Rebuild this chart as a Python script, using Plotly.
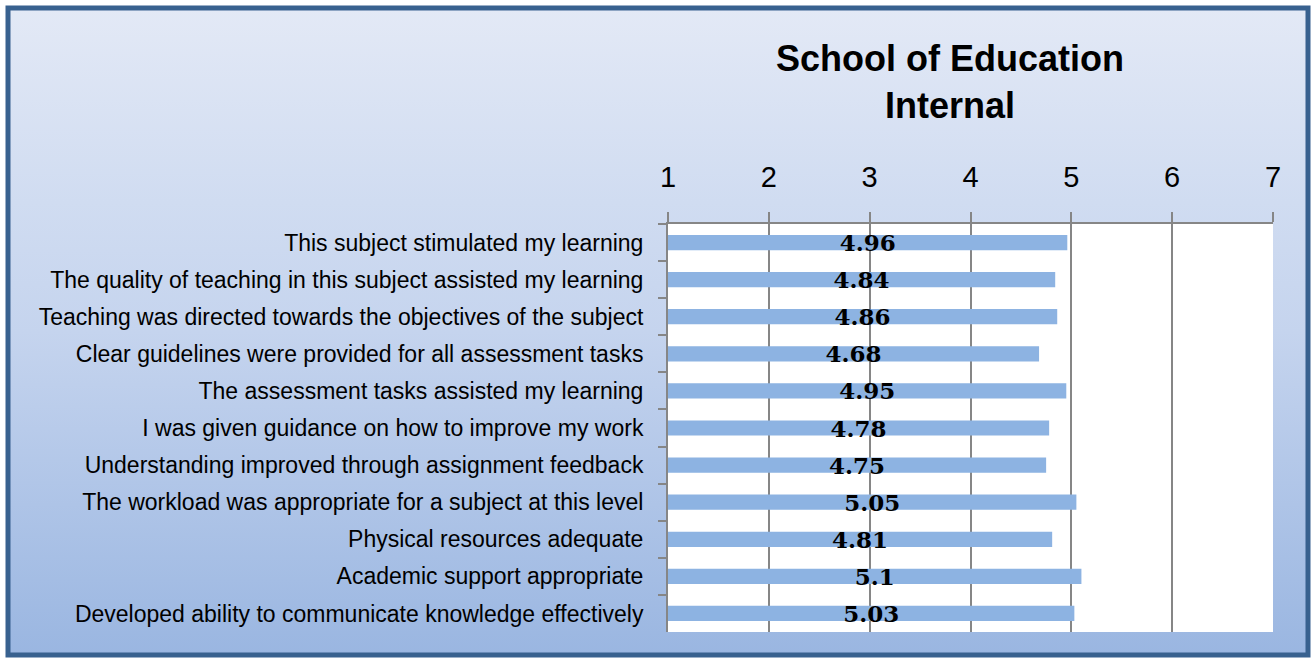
import base64
import plotly.graph_objects as go

# ---- data ----
categories = [
    "This subject stimulated my learning",
    "The quality of teaching in this subject assisted my learning",
    "Teaching was directed towards the objectives of the subject",
    "Clear guidelines were provided for all assessment tasks",
    "The assessment tasks assisted my learning",
    "I was given guidance on how to improve my work",
    "Understanding improved through assignment feedback",
    "The workload was appropriate for a subject at this level",
    "Physical resources adequate",
    "Academic support appropriate",
    "Developed ability to communicate knowledge effectively",
]
scores = [4.96, 4.84, 4.86, 4.68, 4.95, 4.78, 4.75, 5.05, 4.81, 5.1, 5.03]
x_ticks = [1, 2, 3, 4, 5, 6, 7]
title_lines = ["School of Education", "Internal"]

# ---- layout geometry (pixels) ----
W, H = 1311, 658
PL, PR, PT, PB = 668, 1273, 224, 632
axis_min = 1


def xp(px):
    return (px - PL) / (PR - PL)


def yp(py):
    return (PB - py) / (PB - PT)


narrow = "Liberation Sans Narrow, Arial Narrow, Liberation Sans, Arial, sans-serif"
grey = "#868686"

# gradient background image
bx0, by0, bx1, by1 = 8, 8, 1308, 655
gw, gh = bx1 - bx0, by1 - by0
svg = (
    f'<svg xmlns="http://www.w3.org/2000/svg" width="{gw}" height="{gh}" '
    f'viewBox="0 0 {gw} {gh}" preserveAspectRatio="none">'
    '<defs><linearGradient id="g" x1="0" y1="0" x2="0" y2="1">'
    '<stop offset="0" stop-color="#e3e9f6"/>'
    '<stop offset="0.3" stop-color="#d0dcf1"/>'
    '<stop offset="0.5" stop-color="#c5d4ee"/>'
    '<stop offset="1" stop-color="#9ab6e1"/>'
    '</linearGradient></defs>'
    f'<rect width="{gw}" height="{gh}" fill="url(#g)"/></svg>'
)
svg_uri = "data:image/svg+xml;base64," + base64.b64encode(svg.encode()).decode()

fig = go.Figure()
fig.add_trace(
    go.Bar(
        y=categories,
        x=[v - axis_min for v in scores],
        base=axis_min,
        orientation="h",
        width=0.41,
        marker=dict(color="#8db3e2", line=dict(width=0)),
        text=[str(v) for v in scores],
        textposition="inside",
        insidetextanchor="middle",
        textangle=0,
        constraintext="none",
        textfont=dict(family="DejaVu Serif", size=23, color="black", weight="bold"),
        hoverinfo="skip",
    )
)

fig.update_layout(
    width=W,
    height=H,
    margin=dict(l=PL, r=W - PR, t=PT, b=H - PB, pad=0),
    paper_bgcolor="#ffffff",
    plot_bgcolor="#ffffff",
    showlegend=False,
    title=dict(
        text="<br>".join(title_lines),
        font=dict(family=narrow, size=36, color="black", weight="bold"),
        x=xp(950),
        xref="paper",
        xanchor="center",
        y=1 - 71 / H,
        yref="container",
        yanchor="middle",
    ),
    xaxis=dict(
        side="top",
        range=[1, 7],
        tickvals=x_ticks,
        ticktext=[str(t) for t in x_ticks],
        showgrid=True,
        gridcolor=grey,
        gridwidth=2,
        showline=True,
        linecolor=grey,
        linewidth=2,
        ticks="outside",
        ticklen=10,
        tickwidth=2,
        tickcolor=grey,
        zeroline=False,
        tickfont=dict(family=narrow, size=29, color="black"),
        ticklabelstandoff=13,
        fixedrange=True,
    ),
    yaxis=dict(
        type="category",
        autorange="reversed",
        tickson="boundaries",
        ticks="outside",
        ticklen=8,
        tickwidth=2,
        tickcolor=grey,
        showline=True,
        linecolor=grey,
        linewidth=2,
        showgrid=False,
        zeroline=False,
        tickfont=dict(family=narrow, size=23, color="black"),
        ticklabelstandoff=18,
        fixedrange=True,
    ),
    images=[
        dict(
            source=svg_uri,
            xref="paper",
            yref="paper",
            x=xp(bx0),
            y=yp(by0),
            sizex=xp(bx1) - xp(bx0),
            sizey=yp(by0) - yp(by1),
            xanchor="left",
            yanchor="top",
            sizing="stretch",
            layer="below",
        )
    ],
    shapes=[
        dict(
            type="rect",
            xref="paper",
            yref="paper",
            x0=xp(bx0),
            x1=xp(bx1),
            y0=yp(by1),
            y1=yp(by0),
            line=dict(color="#38618f", width=5),
            fillcolor="rgba(0,0,0,0)",
            layer="below",
        ),
        dict(
            type="rect",
            xref="x domain",
            yref="y domain",
            x0=0,
            x1=1,
            y0=0,
            y1=1,
            line=dict(width=0),
            fillcolor="#ffffff",
            layer="below",
        ),
    ],
)

fig.write_html(
    "out.html",
    config={"displayModeBar": False, "staticPlot": True},
    post_script="document.body.style.margin='0';document.body.style.overflow='hidden';",
)
